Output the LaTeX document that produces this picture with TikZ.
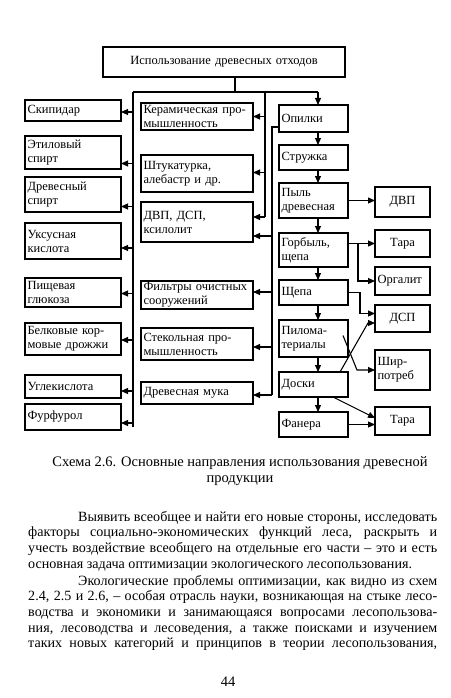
\documentclass[tikz,border=0pt]{standalone}
\usepackage{fontspec}
\setmainfont{Liberation Serif}
\usetikzlibrary{arrows.meta,calc}
\begin{document}
\begin{tikzpicture}[x=1pt,y=-1pt,
  box/.style={draw,line width=1.2pt,anchor=north west,inner xsep=2.5pt,inner ysep=1pt,outer sep=0pt,font=\fontsize{12.5}{14}\selectfont,align=left},
  lbox/.style={box,text width=91},
  mbox/.style={box,text width=107},
  rbox/.style={box,text width=64},
  fbox/.style={box,text width=50},
  conn/.style={line width=1.1pt},
  arr/.style={conn,-{Triangle[length=7pt,width=6pt]}},
  body/.style={anchor=base west,inner sep=0pt,font=\fontsize{14.1}{16}\selectfont},
  capt/.style={anchor=base,inner sep=0pt,font=\fontsize{14.5}{16}\selectfont},
]
\fill[white] (0,0) rectangle (450,698);
\useasboundingbox (0,0) rectangle (450,698);

% top
\node[box,minimum height=30,text width=237,align=center] (top) at (103,47) {Использование древесных отходов};

% left column
\node[lbox,minimum height=21] (skip) at (25,100) {Скипидар};
\node[lbox,minimum height=33] (etil) at (25,136) {Этиловый\\спирт};
\node[lbox,minimum height=35] (drsp) at (25,177) {Древесный\\спирт};
\node[lbox,minimum height=36] (uks) at (25,223) {Уксусная\\кислота};
\node[lbox,minimum height=29] (glu) at (25,278) {Пищевая\\глюкоза};
\node[lbox,minimum height=32] (belk) at (25,323) {Белковые кор-\\мовые дрожжи};
\node[lbox,minimum height=23] (ugl) at (25,375) {Углекислота};
\node[lbox,minimum height=26] (furf) at (25,404) {Фурфурол};

% middle column
\node[mbox,minimum height=27] (kera) at (141,103) {Керамическая про-\\мышленность};
\node[mbox,minimum height=37] (stuk) at (141,155) {Штукатурка,\\алебастр и др.};
\node[mbox,minimum height=40] (dvp) at (141,202) {ДВП, ДСП,\\ксилолит};
\node[mbox,minimum height=28] (filt) at (141,281) {Фильтры очистных\\сооружений};
\node[mbox,minimum height=32] (stek) at (141,328) {Стекольная про-\\мышленность};
\node[mbox,minimum height=22] (muka) at (141,382) {Древесная мука};

% right column
\node[rbox,minimum height=27] (opil) at (279,105) {Опилки};
\node[rbox,minimum height=25] (struzh) at (279,145) {Стружка};
\node[rbox,minimum height=35] (pyl) at (279,183) {Пыль\\древесная};
\node[rbox,minimum height=34] (gorb) at (279,233) {Горбыль,\\щепа};
\node[rbox,minimum height=25] (shch) at (279,280) {Щепа};
\node[rbox,minimum height=37] (pilo) at (279,320) {Пилома-\\териалы};
\node[rbox,minimum height=25] (doski) at (279,372) {Доски};
\node[rbox,minimum height=25] (fan) at (279,412) {Фанера};

% far right column
\node[fbox,minimum height=30,align=center] (dvpr) at (375,187) {ДВП};
\node[fbox,minimum height=27,align=center] (tara1) at (375,230) {Тара};
\node[fbox,minimum height=28] (orgal) at (375,267) {Оргалит};
\node[fbox,minimum height=27,align=center] (dsp) at (375,305) {ДСП};
\node[fbox,minimum height=40] (shir) at (375,350) {Шир-\\потреб};
\node[fbox,minimum height=28,align=center] (tara2) at (375,407) {Тара};

% buses
\coordinate (j) at (235,92);
\coordinate (lt) at (133,92);
\coordinate (lb) at (133,427);
\coordinate (mb) at (265,92);
\coordinate (mbb) at (265,217);
\coordinate (rt) at (318,92);
\coordinate (ib) at (272,127);
\coordinate (ibb) at (272,395);
\draw[conn] ([xshift=11pt]top.south) -- (j);
\draw[conn] (lt) -- (rt);
\draw[conn] (lt) -- (lb);
\draw[conn] (mb) -- (mbb);
\draw[arr] (rt) -- ([xshift=4.5pt]opil.north);
\draw[conn] ($(opil.west)+(0,8.5)$) -- (ib) -- (ibb);

% left arrows
\draw[arr] ($(skip.east)+(12,1.5)$) -- ($(skip.east)+(0,1.5)$);
\draw[arr] ($(etil.east)+(12,11)$) -- ($(etil.east)+(0,11)$);
\draw[arr] ($(drsp.east)+(12,12)$) -- ($(drsp.east)+(0,12)$);
\draw[arr] ($(uks.east)+(12,7)$) -- ($(uks.east)+(0,7)$);
\draw[arr] ($(glu.east)+(12,1)$) -- ($(glu.east)+(0,1)$);
\draw[arr] ($(belk.east)+(12,1)$) -- ($(belk.east)+(0,1)$);
\draw[arr] ($(ugl.east)+(12,4.5)$) -- ($(ugl.east)+(0,4.5)$);
\draw[arr] ($(furf.east)+(12,6)$) -- ($(furf.east)+(0,6)$);

% middle arrows
\draw[arr] ($(kera.east)+(12,0)$) -- (kera.east);
\draw[arr] ($(stuk.east)+(12,-1)$) -- ($(stuk.east)+(0,-1)$);
\draw[arr] ($(dvp.east)+(12,-5)$) -- ($(dvp.east)+(0,-5)$);
\draw[arr] ($(dvp.east)+(19,14)$) -- ($(dvp.east)+(0,14)$);
\draw[arr] ($(filt.east)+(19,-3)$) -- ($(filt.east)+(0,-3)$);
\draw[arr] ($(stek.east)+(19,3)$) -- ($(stek.east)+(0,3)$);
\draw[arr] ($(muka.east)+(19,2)$) -- ($(muka.east)+(0,2)$);

% right column chain
\draw[arr] ([xshift=4.5pt]opil.south) -- ([xshift=4.5pt]struzh.north);
\draw[arr] ([xshift=4.5pt]struzh.south) -- ([xshift=4.5pt]pyl.north);
\draw[arr] ([xshift=4.5pt]pyl.south) -- ([xshift=4.5pt]gorb.north);
\draw[arr] ([xshift=4.5pt]gorb.south) -- ([xshift=4.5pt]shch.north);
\draw[arr] ([xshift=4.5pt]shch.south) -- ([xshift=4.5pt]pilo.north);
\draw[arr] ([xshift=4.5pt]pilo.south) -- ([xshift=4.5pt]doski.north);
\draw[arr] ([xshift=4.5pt]doski.south) -- ([xshift=4.5pt]fan.north);

% right side connections
\draw[arr] (pyl.east) -- (pyl.east -| dvpr.west);
\draw[arr] (tara1.west -| gorb.east) -- (tara1.west);
\draw[arr] ($(tara1.west -| gorb.east)+(10,0)$) |- (orgal.west);
\draw[arr] (shch.east) -- ++(12,0) |- ([yshift=5pt]dsp.west);
\draw[arr] ([xshift=-8pt]doski.north east) -- ($(dsp.west)+(-7,4.5)$) -- ($(dsp.west)+(0,4.5)$);
\draw[arr] ($(pilo.east)+(-5,-3)$) -- ($(shir.west)+(-18,0)$) -- (shir.west);
\draw[arr] ($(doski.south east)+(-15,0)$) -- ($(tara2.west)+(0,-3)$);
\draw[arr] (fan.east) -- (fan.east -| tara2.west);

% caption
\node[capt] (c1) at (240,466) {Схема 2.6. Основные направления использования древесной};
\node[capt] (c2) at (240,482) {продукции};

% body text
\node[body] (l1) at (78,521) {\makebox[359pt][s]{Выявить всеобщее и найти его новые стороны, исследовать}};
\node[body] (l2) at (28,536.7) {\makebox[409pt][s]{факторы социально-экономических функций леса, раскрыть и}};
\node[body] (l3) at (28,552.4) {\makebox[409pt][s]{учесть воздействие всеобщего на отдельные его части – это и есть}};
\node[body] (l4) at (28,568.1) {основная задача оптимизации экологического лесопользования.};
\node[body] (l5) at (78,585) {\makebox[359pt][s]{Экологические проблемы оптимизации, как видно из схем}};
\node[body] (l6) at (28,600.7) {\makebox[409pt][s]{2.4, 2.5 и 2.6, – особая отрасль науки, возникающая на стыке лесо-}};
\node[body] (l7) at (28,616.4) {\makebox[409pt][s]{водства и экономики и занимающаяся вопросами лесопользова-}};
\node[body] (l8) at (28,632.1) {\makebox[409pt][s]{ния, лесоводства и лесоведения, а также поисками и изучением}};
\node[body] (l9) at (28,647.8) {\makebox[409pt][s]{таких новых категорий и принципов в теории лесопользования,}};
\node[capt] (pg) at (228,686) {44};
\end{tikzpicture}
\end{document}
